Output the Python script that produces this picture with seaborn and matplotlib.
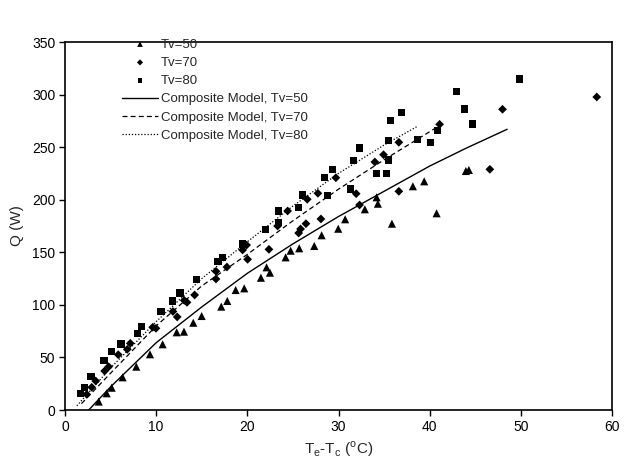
import numpy as np
import pandas as pd
import matplotlib
matplotlib.use("Agg")
import matplotlib.pyplot as plt
import seaborn as sns

# Measured heat transfer rate Q (W) against temperature difference Te-Tc (°C)
tv50_dt = [3.7, 4.57, 5.12, 6.32, 7.82, 9.32, 10.71, 12.25, 13.05, 14.07, 14.99,
           17.14, 17.80, 18.72, 19.66, 21.49, 22.11, 22.48, 24.20, 24.75, 25.69,
           27.34, 28.15, 29.97, 30.73, 32.89, 34.18, 34.32, 35.86, 38.16, 39.40,
           40.76, 43.97, 44.30]
tv50_q = [8.0, 15.9, 21.2, 31.1, 41.2, 53.0, 62.5, 73.9, 74.5, 83.0, 89.4,
          98.3, 103.7, 114.1, 115.7, 125.8, 135.7, 130.6, 145.2, 151.5, 153.8,
          156.0, 166.2, 172.4, 181.4, 190.9, 202.3, 196.2, 177.2, 212.8, 217.5,
          187.1, 227.3, 228.3]

tv70_dt = [2.38, 2.93, 3.37, 4.35, 4.79, 5.84, 6.83, 7.16, 9.62, 9.98, 11.84,
           12.31, 13.08, 13.38, 14.22, 16.56, 16.56, 17.76, 19.48, 19.92, 20.03,
           22.37, 23.32, 24.42, 25.63, 25.84, 26.43, 26.57, 27.74, 28.07, 29.71,
           31.94, 32.31, 33.99, 34.94, 36.62, 36.62, 41.09, 46.60, 47.99, 58.33]
tv70_q = [14.9, 21.6, 27.6, 37.1, 41.2, 52.6, 57.7, 63.4, 78.7, 77.7, 93.7,
          88.5, 104.3, 102.4, 109.4, 124.6, 131.9, 136.0, 152.2, 156.9, 143.3,
          152.8, 175.0, 189.3, 168.3, 172.2, 177.2, 200.4, 206.1, 181.7, 220.9,
          205.7, 195.0, 235.9, 242.8, 254.6, 208.0, 271.7, 228.9, 286.0, 297.7]

tv80_dt = [1.70, 2.14, 2.85, 4.28, 5.15, 6.14, 8.00, 8.39, 10.53, 11.77, 12.61,
           14.47, 16.78, 17.29, 19.44, 21.96, 23.41, 23.41, 25.63, 26.02, 28.43,
           29.35, 28.76, 31.28, 31.66, 32.31, 34.13, 35.31, 35.45, 35.45, 35.71,
           36.88, 38.71, 40.06, 40.82, 42.98, 43.86, 44.74, 49.89]
tv80_q = [15.5, 21.6, 31.9, 47.1, 55.6, 62.8, 72.8, 79.2, 93.5, 103.7, 111.3,
          124.3, 140.8, 144.8, 157.9, 171.9, 178.3, 189.3, 192.4, 204.5, 220.9,
          229.0, 203.8, 210.2, 237.1, 249.2, 224.5, 224.5, 237.8, 256.1, 275.2,
          282.8, 257.5, 254.2, 265.6, 302.5, 286.3, 272.0, 314.8]

# Composite model predictions
model50_dt = [2.6, 5, 10, 15, 20, 25, 30, 35, 40, 44, 48.5]
model50_q = [0, 22, 64, 98, 130, 158, 184, 208, 232, 249, 267]
model70_dt = [1.8, 5, 10, 15, 20, 25, 30, 35, 41]
model70_q = [6, 35, 80, 118, 148, 180, 210, 238, 270]
model80_dt = [1.3, 5, 10, 15, 20, 25, 30, 35, 38.7]
model80_q = [4, 40, 84, 125, 160, 194, 225, 252, 270]

sns.set_style("ticks")
plt.rcParams["font.family"] = ["Liberation Sans", "DejaVu Sans"]
plt.rcParams["mathtext.fontset"] = "custom"
plt.rcParams["mathtext.rm"] = "Liberation Sans"

fig = plt.figure(figsize=(6.42, 4.61), dpi=100)
ax = fig.add_axes([65 / 642, 1 - 410 / 461, 547 / 642, 368 / 461])

sns.scatterplot(x=tv50_dt, y=tv50_q, marker="^", s=34, color="black",
                edgecolor="none", ax=ax, label="Tv=50")
sns.scatterplot(x=tv70_dt, y=tv70_q, marker="D", s=20, color="black",
                edgecolor="none", ax=ax, label="Tv=70")
sns.scatterplot(x=tv80_dt, y=tv80_q, marker="s", s=26, color="black",
                edgecolor="none", ax=ax, label="Tv=80")

sns.lineplot(x=model50_dt, y=model50_q, color="black", lw=1.0, ax=ax,
             label="Composite Model, Tv=50")
sns.lineplot(x=model70_dt, y=model70_q, color="black", lw=0.9, ax=ax,
             label="Composite Model, Tv=70", dashes=False)
sns.lineplot(x=model80_dt, y=model80_q, color="black", lw=0.9, ax=ax,
             label="Composite Model, Tv=80", dashes=False)
lines = ax.get_lines()
lines[1].set_dashes([4, 2.5])
lines[2].set_dashes([1, 1.5])

ax.set_xlim(0, 60)
ax.set_ylim(0, 350)
ax.set_xticks(np.arange(0, 61, 10))
ax.set_yticks(np.arange(0, 351, 50))
for sp in ax.spines.values():
    sp.set_visible(True)
    sp.set_linewidth(1.2)
    sp.set_color("black")
ax.tick_params(direction="out", length=4, width=1.0, labelsize=10,
               colors="black", pad=3)
ax.set_xlabel(r"T$_\mathregular{e}$-T$_\mathregular{c}$ ($^\mathregular{o}$C)",
              fontsize=11, labelpad=4)
ax.set_ylabel("Q (W)", fontsize=11, labelpad=6)

handles, labels = ax.get_legend_handles_labels()
leg = ax.legend(handles, labels, loc="upper left",
                bbox_to_anchor=(0.1037, 1.010), frameon=False,
                fontsize=9.5, handlelength=2.77, handletextpad=0.2,
                labelspacing=0.46, borderpad=0, borderaxespad=0,
                markerscale=0.7)

fig.savefig("out.png", dpi=100)
